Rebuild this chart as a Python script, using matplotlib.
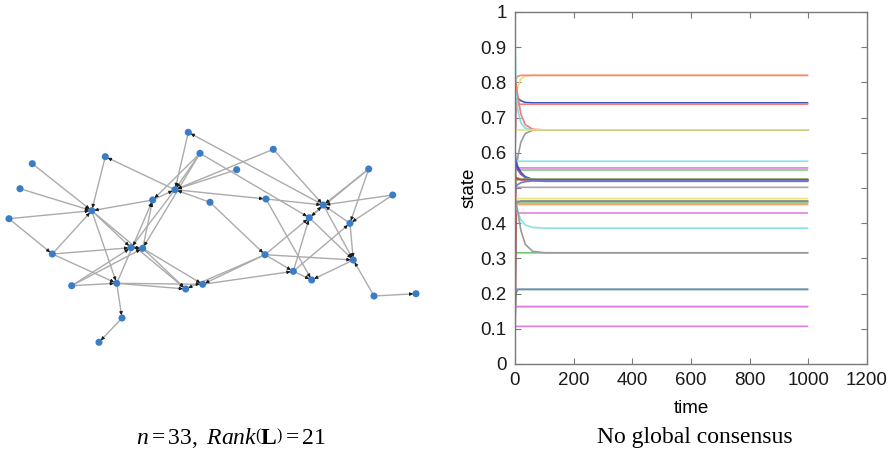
import numpy as np
import matplotlib
matplotlib.use("Agg")
import matplotlib.pyplot as plt

# ---------------- network (33 agents) ----------------
node_x = [188.3, 200.0, 273.3, 105.3, 32.3, 236.7, 368.7, 20.0, 175.0, 152.7,
          210.0, 266.0, 392.7, 91.7, 9.0, 323.3, 309.3, 350.0, 131.0, 142.7,
          52.3, 265.0, 353.3, 293.3, 311.7, 71.7, 116.7, 185.7, 202.7, 374.0,
          416.0, 122.0, 99.0]
node_y = [132.3, 153.3, 149.3, 156.7, 163.7, 169.7, 169.0, 188.7, 189.7, 200.0,
          202.3, 199.0, 195.0, 210.7, 218.7, 205.0, 217.7, 223.3, 247.7, 248.3,
          254.0, 254.7, 260.0, 271.3, 280.0, 285.7, 283.3, 289.0, 284.3, 296.0,
          293.7, 318.0, 342.3]

# directed edges (source, target), agents numbered from 1
edges = [(16, 1), (1, 9), (2, 10), (2, 9), (2, 17), (3, 9), (3, 16), (9, 4),
         (4, 14), (5, 14), (8, 14), (15, 14), (6, 9), (10, 9), (11, 9),
         (10, 14), (9, 12), (12, 16), (12, 25), (14, 19), (14, 27), (14, 28),
         (21, 14), (15, 21), (21, 19), (21, 27), (26, 27), (26, 19), (26, 20),
         (27, 32), (32, 33), (27, 10), (9, 19), (19, 20), (20, 19), (20, 28),
         (20, 29), (27, 29), (27, 28), (22, 28), (22, 29), (11, 22), (22, 17),
         (22, 23), (22, 24), (29, 24), (17, 16), (7, 16), (7, 18), (7, 17),
         (13, 16), (13, 18), (18, 16), (18, 23), (24, 18), (16, 23), (17, 23),
         (24, 17), (24, 25), (23, 25), (30, 23), (30, 31), (2, 20), (20, 10)]

# ---------------- consensus trajectories ----------------
t_knots = [0, 3, 10, 20, 35, 60, 100, 1000]

traj_colors = ['#6fc86f', '#60b860', '#7fd8e0', '#303030', '#e04848', '#e3e27a',
               '#ff8080', '#3a58b8', '#f88080', '#7fe0de', '#f47a7a',
               '#9a9a9a', '#e3e27a', '#86e3e3', '#e27fe0', '#80d080', '#2a2a2a',
               '#3f55c0', '#8a5ac0', '#6fc86f', '#c04040', '#a8a8a8', '#6a7ae0',
               '#e8e47c', '#8a8a8a', '#86d086', '#f8a86a', '#df82df', '#86e3e3',
               '#9a9a9a', '#7a82d8', '#e27fe0', '#e27fe0']

traj_values = [
    [0.31, 0.316, 0.316, 0.316, 0.316, 0.316, 0.316, 0.316],
    [0.12, 0.200, 0.212, 0.212, 0.212, 0.212, 0.212, 0.212],
    [0.16, 0.163, 0.163, 0.163, 0.163, 0.163, 0.163, 0.163],
    [0.00, 0.450, 0.460, 0.462, 0.462, 0.462, 0.462, 0.462],
    [0.03, 0.520, 0.528, 0.525, 0.525, 0.525, 0.525, 0.525],
    [0.70, 0.760, 0.790, 0.810, 0.818, 0.820, 0.820, 0.820],
    [0.80, 0.810, 0.818, 0.820, 0.820, 0.820, 0.820, 0.820],
    [0.60, 0.750, 0.755, 0.748, 0.743, 0.742, 0.742, 0.742],
    [0.58, 0.730, 0.738, 0.738, 0.738, 0.738, 0.738, 0.738],
    [0.97, 0.780, 0.720, 0.685, 0.670, 0.665, 0.665, 0.665],
    [0.81, 0.800, 0.760, 0.710, 0.680, 0.667, 0.665, 0.665],
    [0.52, 0.550, 0.590, 0.630, 0.655, 0.664, 0.665, 0.665],
    [0.66, 0.665, 0.665, 0.665, 0.665, 0.665, 0.665, 0.665],
    [0.59, 0.578, 0.576, 0.576, 0.576, 0.576, 0.576, 0.576],
    [0.56, 0.557, 0.557, 0.557, 0.557, 0.557, 0.557, 0.557],
    [0.55, 0.550, 0.550, 0.550, 0.550, 0.550, 0.550, 0.550],
    [0.58, 0.570, 0.555, 0.540, 0.530, 0.524, 0.522, 0.522],
    [0.61, 0.575, 0.560, 0.545, 0.532, 0.524, 0.521, 0.521],
    [0.57, 0.560, 0.550, 0.540, 0.530, 0.522, 0.519, 0.519],
    [0.50, 0.520, 0.524, 0.525, 0.525, 0.525, 0.525, 0.525],
    [0.55, 0.530, 0.525, 0.523, 0.523, 0.523, 0.523, 0.523],
    [0.51, 0.503, 0.502, 0.502, 0.502, 0.502, 0.502, 0.502],
    [0.48, 0.505, 0.510, 0.515, 0.518, 0.520, 0.520, 0.520],
    [0.46, 0.470, 0.470, 0.470, 0.470, 0.470, 0.470, 0.470],
    [0.47, 0.462, 0.462, 0.462, 0.462, 0.462, 0.462, 0.462],
    [0.45, 0.457, 0.457, 0.457, 0.457, 0.457, 0.457, 0.457],
    [0.44, 0.453, 0.453, 0.453, 0.453, 0.453, 0.453, 0.453],
    [0.43, 0.430, 0.430, 0.430, 0.430, 0.430, 0.430, 0.430],
    [0.46, 0.450, 0.430, 0.410, 0.395, 0.388, 0.386, 0.386],
    [0.47, 0.460, 0.430, 0.380, 0.340, 0.320, 0.316, 0.316],
    [0.20, 0.212, 0.212, 0.212, 0.212, 0.212, 0.212, 0.212],
    [0.17, 0.163, 0.163, 0.163, 0.163, 0.163, 0.163, 0.163],
    [0.10, 0.107, 0.107, 0.107, 0.107, 0.107, 0.107, 0.107],
]

x_ticks = [0, 200, 400, 600, 800, 1000, 1200]
y_ticks = [0, 0.1, 0.2, 0.3, 0.4, 0.5, 0.6, 0.7, 0.8, 0.9, 1.0]
y_tick_labels = ['0', '0.1', '0.2', '0.3', '0.4', '0.5', '0.6', '0.7', '0.8', '0.9', '1']

left_caption = r'$n = 33,\ \mathit{Rank}\left(\mathbf{L}\right) = 21$'
right_caption = 'No global consensus'

# ---------------- figure ----------------
W, H = 890, 455
fig = plt.figure(figsize=(W / 100, H / 100), dpi=100)
fig.patch.set_facecolor('white')

plt.rcParams['mathtext.fontset'] = 'custom'
plt.rcParams['mathtext.rm'] = 'Liberation Serif'
plt.rcParams['mathtext.it'] = 'Liberation Serif:italic'
plt.rcParams['mathtext.bf'] = 'Liberation Serif:bold'

# network panel, drawn in a pixel-like coordinate frame
gx0, gx1, gy0, gy1 = 0, 450, 100, 370
axg = fig.add_axes([gx0 / W, (H - gy1) / H, (gx1 - gx0) / W, (gy1 - gy0) / H])
axg.set_xlim(gx0, gx1)
axg.set_ylim(gy1, gy0)
axg.axis('off')

nx = np.array(node_x)
ny = np.array(node_y)
node_r = 2.8
for s, t in edges:
    a = np.array([nx[s - 1], ny[s - 1]])
    b = np.array([nx[t - 1], ny[t - 1]])
    axg.plot([a[0], b[0]], [a[1], b[1]], color='#ababab', lw=1.0,
             solid_capstyle='round', zorder=1)
    u = (b - a) / np.hypot(*(b - a))
    tip = b - u * node_r
    tail = tip - u * 4.0
    axg.annotate('', xy=tip, xytext=tail,
                 arrowprops=dict(arrowstyle='-|>', color='#1a1a1a', lw=0.6,
                                 mutation_scale=5, shrinkA=0, shrinkB=0),
                 zorder=2)
axg.scatter(nx, ny, s=26, color='#3b7cc8', edgecolors='none', zorder=3)

fig.text(231 / W, 1 - 438 / H, left_caption, fontsize=17,
         ha='center', va='center')

# trajectory panel
ax = fig.add_axes([515 / W, (H - 364) / H, 352 / W, 352 / H])
for vals, col in zip(traj_values, traj_colors):
    ax.plot(t_knots, vals, color=col, lw=1.2, solid_capstyle='butt')

ax.set_xlim(0, 1200)
ax.set_ylim(0, 1)
ax.set_xticks(x_ticks)
ax.set_yticks(y_ticks)
ax.set_yticklabels(y_tick_labels)
for sp in ax.spines.values():
    sp.set_color('#7a7a7a')
    sp.set_linewidth(1.0)
ax.tick_params(direction='in', length=4, width=0.8, color='#7a7a7a',
               top=True, right=True, labelsize=13.5, labelcolor='#1a1a1a',
               pad=6)
for lab in ax.get_xticklabels() + ax.get_yticklabels():
    lab.set_family('Liberation Sans')
ax.set_xlabel('time', fontsize=13.5, family='Liberation Sans', labelpad=8)
ax.set_ylabel('state', fontsize=13.5, family='Liberation Sans', labelpad=2)

fig.text(695 / W, 1 - 437 / H, right_caption, fontsize=17,
         family='Liberation Serif', ha='center', va='center')

fig.savefig('out.png', dpi=100, facecolor='white')
